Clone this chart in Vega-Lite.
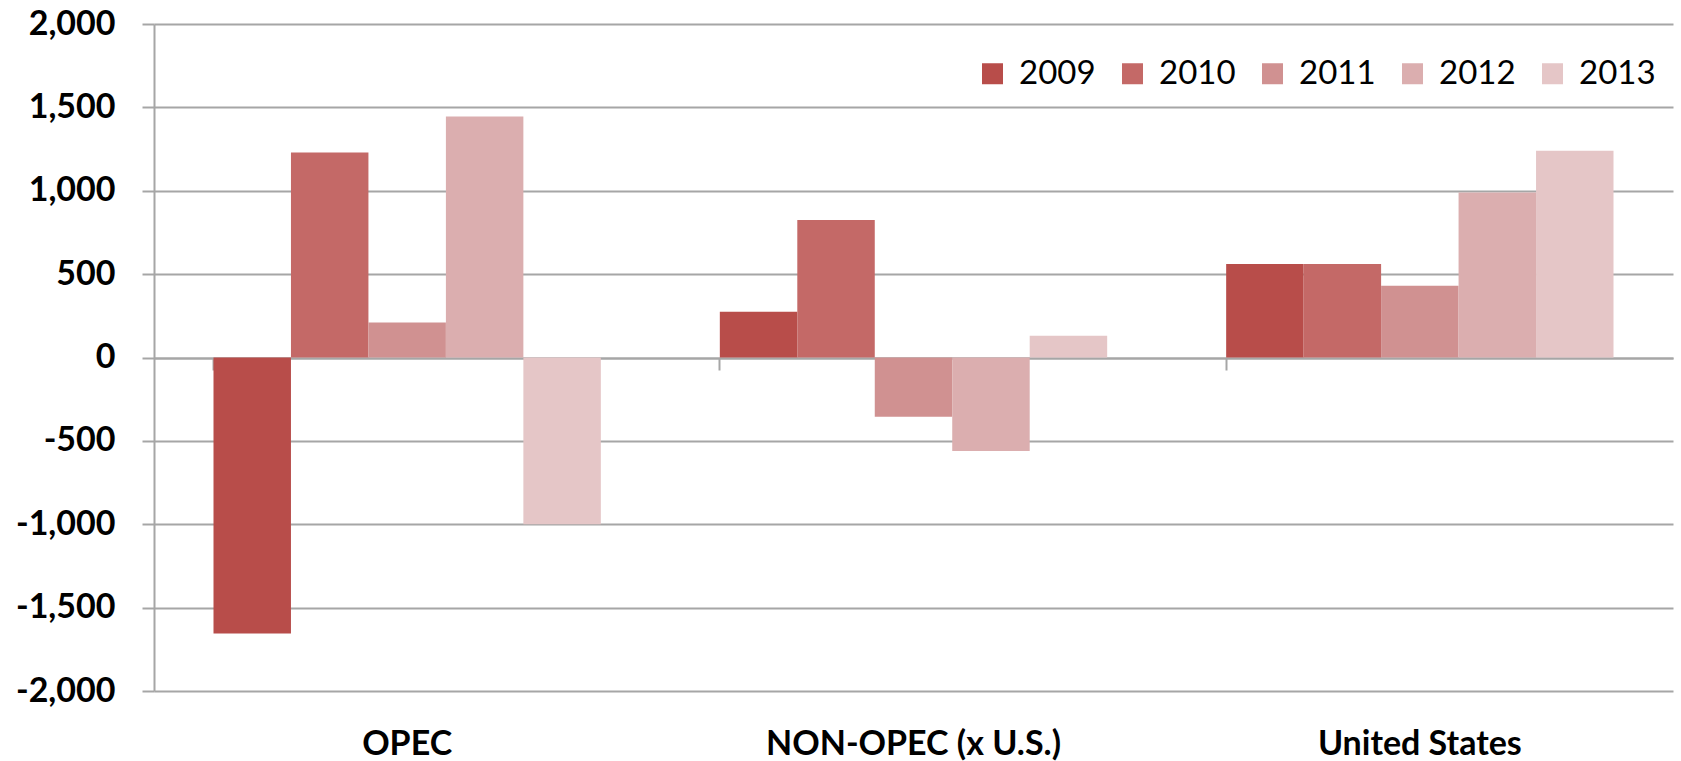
{
  "$schema": "https://vega.github.io/schema/vega-lite/v6.json",
  "width": 1519,
  "height": 667,
  "autosize": {"type": "none"},
  "padding": {"left": 154, "top": 24, "right": 8, "bottom": 70},
  "config": {"view": {"stroke": null}, "font": "Lato"},
  "data": {
    "values": [
      {"region": "OPEC", "year": "2009", "value": -1655},
      {"region": "OPEC", "year": "2010", "value": 1230},
      {"region": "OPEC", "year": "2011", "value": 210},
      {"region": "OPEC", "year": "2012", "value": 1445},
      {"region": "OPEC", "year": "2013", "value": -1000},
      {"region": "NON-OPEC (x U.S.)", "year": "2009", "value": 275},
      {"region": "NON-OPEC (x U.S.)", "year": "2010", "value": 825},
      {"region": "NON-OPEC (x U.S.)", "year": "2011", "value": -355},
      {"region": "NON-OPEC (x U.S.)", "year": "2012", "value": -560},
      {"region": "NON-OPEC (x U.S.)", "year": "2013", "value": 130},
      {"region": "United States", "year": "2009", "value": 560},
      {"region": "United States", "year": "2010", "value": 560},
      {"region": "United States", "year": "2011", "value": 430},
      {"region": "United States", "year": "2012", "value": 990},
      {"region": "United States", "year": "2013", "value": 1240}
    ]
  },
  "layer": [
    {
      "mark": {"type": "bar"},
      "encoding": {
        "x": {
          "field": "region",
          "type": "nominal",
          "sort": ["OPEC", "NON-OPEC (x U.S.)", "United States"],
          "scale": {"paddingInner": 0.235, "paddingOuter": 0.1175},
          "axis": {
            "orient": "bottom",
            "title": null,
            "labelAngle": 0,
            "domain": false,
            "ticks": false,
            "grid": false,
            "labelFont": "Lato",
            "labelFontWeight": "bold",
            "labelFontSize": 34,
            "labelColor": "#000000",
            "labelPadding": 36,
            "labelLimit": 0
          }
        },
        "xOffset": {
          "field": "year",
          "type": "nominal",
          "scale": {"paddingInner": 0, "paddingOuter": 0}
        },
        "y": {
          "field": "value",
          "type": "quantitative",
          "scale": {"domain": [-2000, 2000], "nice": false},
          "axis": {
            "values": [-2000, -1500, -1000, -500, 0, 500, 1000, 1500, 2000],
            "labelExpr": "datum.value < 0 ? '-' + format(-datum.value, ',.0f') : format(datum.value, ',.0f')",
            "title": null,
            "grid": true,
            "gridColor": "#A6A6A6",
            "gridWidth": 2,
            "domainColor": "#A6A6A6",
            "domainWidth": 2,
            "tickColor": "#A6A6A6",
            "tickWidth": 2,
            "tickSize": 12,
            "labelFont": "Lato",
            "labelFontSize": 34,
            "labelFontWeight": "bold",
            "labelColor": "#000000",
            "labelPadding": 27,
            "labelLimit": 0
          }
        },
        "color": {
          "field": "year",
          "type": "nominal",
          "scale": {
            "domain": ["2009", "2010", "2011", "2012", "2013"],
            "range": ["#B84D4A", "#C46967", "#D09191", "#DBAEAF", "#E5C6C7"]
          },
          "legend": {
            "title": null,
            "orient": "none",
            "legendX": 822,
            "legendY": 33,
            "direction": "horizontal",
            "symbolType": "square",
            "symbolSize": 441,
            "symbolStrokeWidth": 0,
            "labelFont": "Lato",
            "labelFontSize": 33,
            "labelColor": "#000000",
            "labelOffset": 10,
            "columnPadding": 20,
            "padding": 0
          }
        }
      }
    },
    {
      "mark": {"type": "point", "opacity": 0},
      "encoding": {
        "x": {
          "field": "region",
          "type": "nominal",
          "sort": ["OPEC", "NON-OPEC (x U.S.)", "United States"],
          "axis": {
            "orient": "bottom",
            "offset": -333,
            "title": null,
            "labels": false,
            "grid": false,
            "domain": true,
            "domainColor": "#A6A6A6",
            "domainWidth": 2,
            "ticks": true,
            "tickColor": "#A6A6A6",
            "tickWidth": 2,
            "tickSize": 12,
            "bandPosition": 0
          }
        }
      }
    }
  ],
  "resolve": {"axis": {"x": "independent"}}
}
